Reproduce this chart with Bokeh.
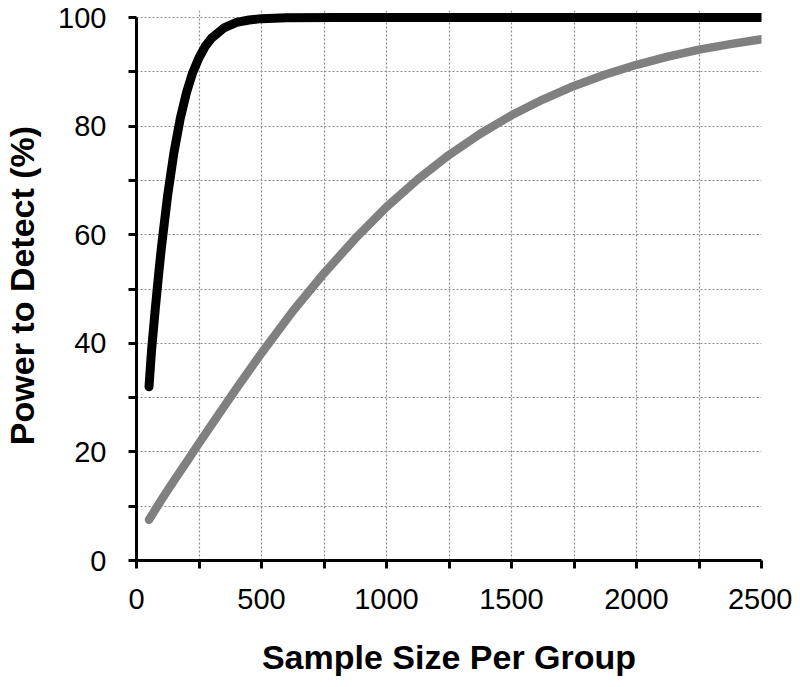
from bokeh.plotting import figure
from bokeh.models import FixedTicker, Range1d
from bokeh.embed import file_html
from bokeh.resources import INLINE

# Data
n_black = [50, 60, 75, 90, 100, 125, 150, 175, 200, 225, 250, 275, 300, 350, 400, 450, 500, 600, 800, 1000, 1500, 2000, 2500]
power_black = [32.0, 38.6, 46.3, 53.4, 57.8, 67.4, 75.2, 81.4, 86.2, 89.9, 92.6, 94.7, 96.2, 98.1, 99.1, 99.55, 99.8, 99.97, 100, 100, 100, 100, 100]

n_gray = [50, 100, 150, 200, 250, 300, 400, 500, 625, 750, 875, 1000, 1125, 1250, 1375, 1500, 1625, 1750, 1875, 2000, 2125, 2250, 2375, 2500]
power_gray = [7.5, 11.2, 14.7, 18.1, 21.6, 25.0, 31.7, 38.2, 45.9, 52.9, 59.3, 65.1, 70.2, 74.7, 78.6, 82.0, 84.9, 87.4, 89.5, 91.3, 92.8, 94.1, 95.1, 96.0]

x_ticks = [0, 250, 500, 750, 1000, 1250, 1500, 1750, 2000, 2250, 2500]
x_labels = {0: "0", 500: "500", 1000: "1000", 1500: "1500", 2000: "2000", 2500: "2500"}
y_ticks = [0, 10, 20, 30, 40, 50, 60, 70, 80, 90, 100]
y_labels = {0: "0", 20: "20", 40: "40", 60: "60", 80: "80", 100: "100"}

FONT = "Liberation Sans"

p = figure(output_backend="svg", toolbar_location=None,
           width=792, height=679,
           min_border_left=133, min_border_right=31, min_border_top=10, min_border_bottom=119,
           x_range=Range1d(0, 2500), y_range=Range1d(0, 101.3))
p.outline_line_color = None
p.background_fill_color = "white"

# grids
for g in (p.xgrid, p.ygrid):
    g.grid_line_color = "#8c8c8c"
    g.grid_line_width = 1.2
    g.grid_line_dash = "2 2"
p.xgrid.ticker = FixedTicker(ticks=x_ticks)
p.ygrid.ticker = FixedTicker(ticks=y_ticks)

# axes
for ax in (p.xaxis[0], p.yaxis[0]):
    ax.axis_line_color = "black"
    ax.axis_line_width = 3
    ax.major_tick_line_color = "black"
    ax.major_tick_line_width = 3
    ax.major_tick_in = 0
    ax.major_tick_out = 8
    ax.minor_tick_line_color = None
    ax.major_label_text_font = FONT
    ax.major_label_text_font_size = "29px"
    ax.major_label_text_color = "black"
    ax.axis_label_text_font = FONT
    ax.axis_label_text_font_size = "34px"
    ax.axis_label_text_font_style = "bold"
    ax.axis_label_text_color = "black"

p.xaxis[0].ticker = FixedTicker(ticks=x_ticks)
p.xaxis[0].major_label_overrides = {t: x_labels.get(t, "") for t in x_ticks}
p.xaxis[0].bounds = (0, 2500)
p.xaxis[0].axis_label = "Sample Size Per Group"
p.xaxis[0].major_label_standoff = 20
p.xaxis[0].axis_label_standoff = 26

p.yaxis[0].ticker = FixedTicker(ticks=y_ticks)
p.yaxis[0].major_label_overrides = {t: y_labels.get(t, "") for t in y_ticks}
p.yaxis[0].bounds = (0, 100)
p.yaxis[0].axis_label = "Power to Detect (%)"
p.yaxis[0].major_label_standoff = 22
p.yaxis[0].axis_label_standoff = 14

p.line(n_gray, power_gray, line_color="#808080", line_width=8.5, line_cap="round", line_join="round")
p.line(n_black, power_black, line_color="black", line_width=9, line_cap="round", line_join="round")

open("out.html", "w").write(file_html(p, INLINE))
